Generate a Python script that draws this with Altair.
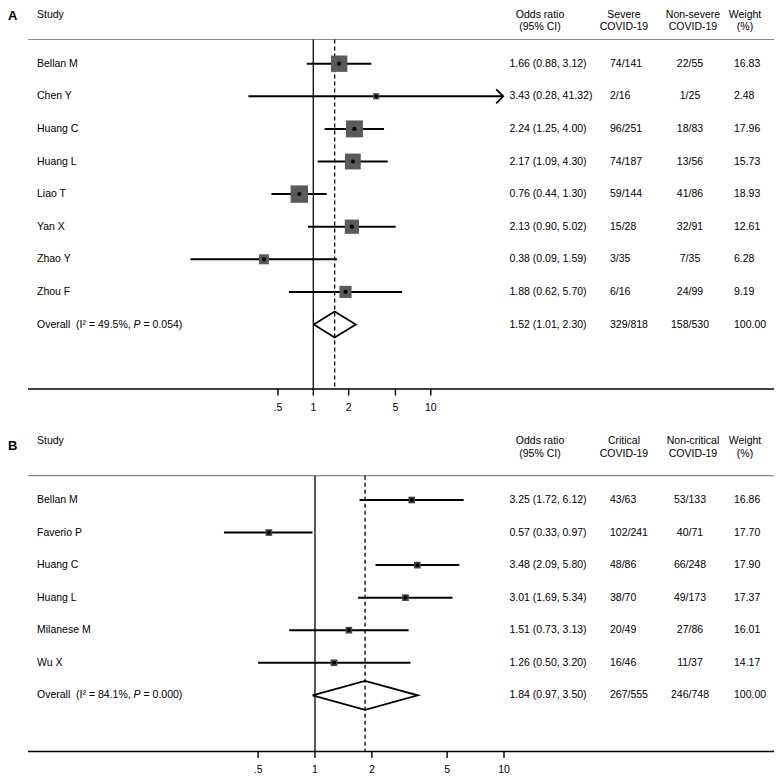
import altair as alt
import pandas as pd

# ---------------- data ----------------
# Panel A
studies_a = ["Bellan M", "Chen Y", "Huang C", "Huang L", "Liao T", "Yan X", "Zhao Y", "Zhou F"]
or_a = [1.66, 3.43, 2.24, 2.17, 0.76, 2.13, 0.38, 1.88]
lo_a = [0.88, 0.28, 1.25, 1.09, 0.44, 0.90, 0.09, 0.62]
hi_a = [3.12, 41.32, 4.00, 4.30, 1.30, 5.02, 1.59, 5.70]
severe_a = ["74/141", "2/16", "96/251", "74/187", "59/144", "15/28", "3/35", "6/16"]
nonsevere_a = ["22/55", "1/25", "18/83", "13/56", "41/86", "32/91", "7/35", "24/99"]
weight_a = [16.83, 2.48, 17.96, 15.73, 18.93, 12.61, 6.28, 9.19]
overall_a = [1.52, 1.01, 2.30]          # OR, lower, upper
overall_counts_a = ["329/818", "158/530"]
overall_weight_a = 100.00
i2_a, p_a = 49.5, "0.054"
headers_a = ["Odds ratio\n(95% CI)", "Severe\nCOVID-19", "Non-severe\nCOVID-19", "Weight\n(%)"]

# Panel B
studies_b = ["Bellan M", "Faverio P", "Huang C", "Huang L", "Milanese M", "Wu X"]
or_b = [3.25, 0.57, 3.48, 3.01, 1.51, 1.26]
lo_b = [1.72, 0.33, 2.09, 1.69, 0.73, 0.50]
hi_b = [6.12, 0.97, 5.80, 5.34, 3.13, 3.20]
critical_b = ["43/63", "102/241", "48/86", "38/70", "20/49", "16/46"]
noncritical_b = ["53/133", "40/71", "66/248", "49/173", "27/86", "11/37"]
weight_b = [16.86, 17.70, 17.90, 17.37, 16.01, 14.17]
overall_b = [1.84, 0.97, 3.50]
overall_counts_b = ["267/555", "246/748"]
overall_weight_b = 100.00
i2_b, p_b = 84.1, "0.000"
headers_b = ["Odds ratio\n(95% CI)", "Critical\nCOVID-19", "Non-critical\nCOVID-19", "Weight\n(%)"]

tick_vals = [0.5, 1, 2, 5, 10]
tick_labels = [".5", "1", "2", "5", "10"]

# ---------------- style ----------------
FONT = "Liberation Sans"
FS = 10.5
TXT = "#000000"
W, H = 766, 766

# Arial / Liberation Sans advance widths (per 1000 em) for offset of italic P
AW = {"O": 778, "v": 500, "e": 556, "r": 333, "a": 556, "l": 222, "(": 333, ")": 333,
      "I": 278, "\u00b2": 333, " ": 278, "\u00a0": 278, "=": 584, ".": 278, "%": 889,
      ",": 278, "P": 667}


def tw(s, fs=FS):
    return sum(AW.get(c, 556) for c in s) / 1000.0 * fs


def panel(studies, est, lo, hi, g1, g2, w, ov, ovc, ovw, i2, pv, headers, letter, geo):
    n = len(studies)
    rows = pd.DataFrame({"study": studies, "est": est, "lo": lo, "hi": hi,
                         "g1": g1, "g2": g2, "w": w, "row": list(range(n))})
    rows["ortxt"] = [f"{e:.2f} ({l:.2f}, {h:.2f})" for e, l, h in zip(est, lo, hi)]
    rows["wtxt"] = [f"{x:.2f}" for x in w]
    ovdf = pd.DataFrame({"row": [n], "est": [ov[0]], "lo": [ov[1]], "hi": [ov[2]],
                         "ortxt": [f"{ov[0]:.2f} ({ov[1]:.2f}, {ov[2]:.2f})"],
                         "g1": [ovc[0]], "g2": [ovc[1]], "wtxt": [f"{ovw:.2f}"]})
    hd = geo["dh"]
    dia = pd.DataFrame({"x": [ov[1], ov[0], ov[2], ov[0], ov[1]],
                        "y": [n, n - hd, n, n + hd, n], "o": [0, 1, 2, 3, 4]})
    ticks = pd.DataFrame({"t": tick_vals, "lab": tick_labels})
    one = pd.DataFrame({"k": [0]})

    xs = alt.Scale(type="log", domain=geo["xdom"], range=geo["xrange"], nice=False)
    ys = alt.Scale(domain=[0, n], range=[geo["row0"], geo["row0"] + n * geo["step"]],
                   nice=False, zero=False)

    def X(f):
        return alt.X(f + ":Q", scale=xs, axis=None)

    def X2(f):
        return alt.X2(f + ":Q")

    def Y(f="row"):
        return alt.Y(f + ":Q", scale=ys, axis=None)

    def txt(align="left", **kw):
        return dict(font=FONT, fontSize=FS, color=TXT, align=align, **kw)

    layers = []
    # panel letter
    layers.append(alt.Chart(one).mark_text(font=FONT, fontSize=13, fontWeight="bold", color=TXT,
                                           align="left", baseline="top").encode(
        x=alt.value(0), y=alt.value(geo["letter_y"]), text=alt.value(letter)))
    # Study header
    layers.append(alt.Chart(one).mark_text(**txt(baseline="top")).encode(
        x=alt.value(29), y=alt.value(geo["hdr_y"]), text=alt.value("Study")))
    # right headers
    for htxt, hx in zip(headers, [532, 616, 685, 737]):
        layers.append(alt.Chart(one).mark_text(**txt("center", baseline="top"),
                                               lineBreak="\n", lineHeight=12.3).encode(
            x=alt.value(hx), y=alt.value(geo["hdr_y"]), text=alt.value(htxt)))
    # header line
    layers.append(alt.Chart(one).mark_rule(color="#8a8a8a", strokeWidth=1.2).encode(
        x=alt.value(20), x2=alt.value(W), y=alt.value(geo["hline"])))
    # axis line
    layers.append(alt.Chart(one).mark_rule(color="black", strokeWidth=1.4).encode(
        x=alt.value(20), x2=alt.value(W), y=alt.value(geo["axis"])))
    # ticks
    layers.append(alt.Chart(ticks).mark_rule(color="black", strokeWidth=1.4).encode(
        x=X("t"), y=alt.value(geo["axis"]), y2=alt.value(geo["axis"] + 6.5)))
    layers.append(alt.Chart(ticks).mark_text(**txt("center", baseline="middle")).encode(
        x=X("t"), y=alt.value(geo["axis"] + 18.5), text="lab:N"))
    # null line at 1
    layers.append(alt.Chart(pd.DataFrame({"v": [1.0]})).mark_rule(color="black", strokeWidth=1.3).encode(
        x=X("v"), y=alt.value(geo["hline"]), y2=alt.value(geo["axis"])))
    # overall dashed line
    layers.append(alt.Chart(ovdf).mark_rule(color="black", strokeWidth=1.3, strokeDash=[4, 3]).encode(
        x=X("est"), y=alt.value(geo["hline"]), y2=alt.value(geo["axis"])))
    # CI lines
    layers.append(alt.Chart(rows).mark_rule(color="black", strokeWidth=2).encode(
        x=X("lo"), x2=X2("hi"), y=Y()))
    # arrows for CIs running off the scale
    arr = rows[rows["hi"] > max(tick_vals)]
    if len(arr):
        layers.append(alt.Chart(arr).mark_point(shape="M-1,-1L0,0L-1,1", filled=False, size=196,
                                                strokeWidth=1.8, color="black", opacity=1).encode(
            x=X("hi"), y=Y()))
    # boxes
    if geo["scaled"]:
        layers.append(alt.Chart(rows).mark_point(shape="square", filled=True, color="#5a5a5a",
                                                 opacity=1).encode(
            x=X("est"), y=Y(),
            size=alt.Size("w:Q", scale=alt.Scale(domain=[0, 20], range=[0, 320]), legend=None)))
    else:
        layers.append(alt.Chart(rows).mark_point(shape="square", filled=True, color="#4a4a4a",
                                                 opacity=1, size=45).encode(x=X("est"), y=Y()))
    layers.append(alt.Chart(rows).mark_point(shape="circle", filled=True, color="black",
                                             opacity=1, size=18).encode(x=X("est"), y=Y()))
    # diamond
    layers.append(alt.Chart(dia).mark_line(color="black", strokeWidth=1.8).encode(
        x=X("x"), y=Y("y"), order="o:Q"))
    # row texts
    allrows = pd.concat([rows, ovdf], ignore_index=True)
    layers.append(alt.Chart(rows).mark_text(**txt(baseline="middle")).encode(
        x=alt.value(29), y=Y(), text="study:N"))
    layers.append(alt.Chart(allrows).mark_text(**txt(baseline="middle")).encode(
        x=alt.value(501.5), y=Y(), text="ortxt:N"))
    layers.append(alt.Chart(allrows).mark_text(**txt(baseline="middle")).encode(
        x=alt.value(602), y=Y(), text="g1:N"))
    layers.append(alt.Chart(allrows).mark_text(**txt("center", baseline="middle")).encode(
        x=alt.value(682), y=Y(), text="g2:N"))
    layers.append(alt.Chart(allrows).mark_text(**txt(baseline="middle")).encode(
        x=alt.value(726), y=Y(), text="wtxt:N"))
    # overall label with italic P
    p1 = f"Overall\u00a0\u00a0(I\u00b2 = {i2:.1f}%,"
    p3 = f"= {pv})"
    x1 = 29
    x2 = x1 + tw(p1 + " ")
    x3 = x2 + tw("P ")
    for s, xx, st in [(p1, x1, "normal"), ("P", x2, "italic"), (p3, x3, "normal")]:
        layers.append(alt.Chart(ovdf).mark_text(**txt(baseline="middle"), fontStyle=st).encode(
            x=alt.value(xx), y=Y(), text=alt.value(s)))
    return alt.layer(*layers)


geo_a = dict(xdom=[0.01, 100], xrange=[70.3, 540.3], row0=55.7, step=32.6, dh=0.40,
             hdr_y=1.5, letter_y=1.8, hline=31.5, axis=381, scaled=True)
geo_b = dict(xdom=[0.1, 10], xrange=[118, 496], row0=492, step=32.55, dh=0.445,
             hdr_y=428.4, letter_y=432, hline=467.7, axis=743.5, scaled=False)

pa = panel(studies_a, or_a, lo_a, hi_a, severe_a, nonsevere_a, weight_a, overall_a,
           overall_counts_a, overall_weight_a, i2_a, p_a, headers_a, "A", geo_a)
pb = panel(studies_b, or_b, lo_b, hi_b, critical_b, noncritical_b, weight_b, overall_b,
           overall_counts_b, overall_weight_b, i2_b, p_b, headers_b, "B", geo_b)

chart = alt.layer(pa, pb).resolve_scale(x="independent", y="independent", size="independent").properties(
    width=W, height=H, padding=0, autosize=alt.AutoSizeParams(type="none")
).configure_view(stroke=None)

chart.save("out.html", embed_options={"renderer": "svg", "actions": False})
